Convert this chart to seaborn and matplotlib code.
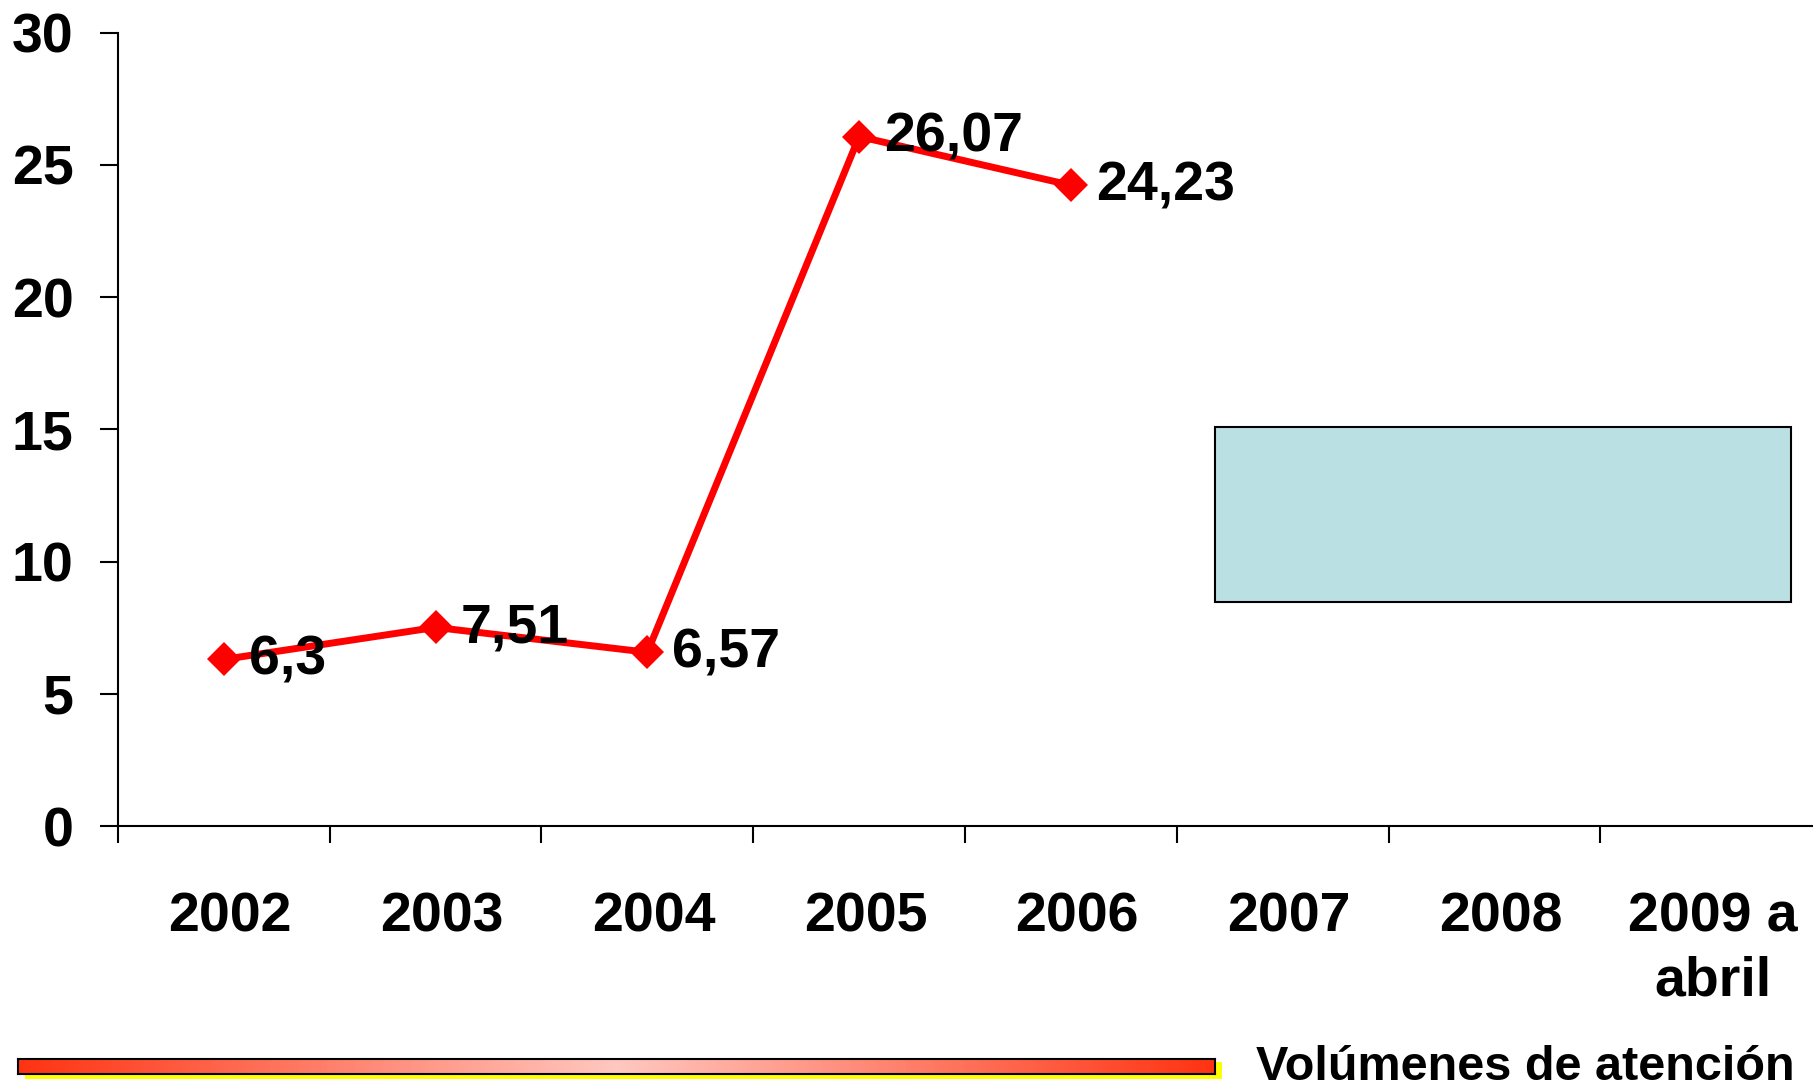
import matplotlib
matplotlib.use('Agg')
import matplotlib.pyplot as plt
import matplotlib.patches as mpatches
from matplotlib import font_manager
from matplotlib.colors import LinearSegmentedColormap
import seaborn as sns
import pandas as pd
import numpy as np

sns.set_style('white')
plt.rcParams['font.family'] = ['Liberation Sans', 'DejaVu Sans']
plt.rcParams['font.weight'] = 'bold'
plt.rcParams['text.color'] = 'black'
plt.rcParams['xtick.color'] = 'black'
plt.rcParams['ytick.color'] = 'black'

# Data
years = ['2002', '2003', '2004', '2005', '2006', '2007', '2008', '2009 a\nabril']
values = [6.3, 7.51, 6.57, 26.07, 24.23, np.nan, np.nan, np.nan]
value_labels = ['6,3', '7,51', '6,57', '26,07', '24,23']
yticks = [0, 5, 10, 15, 20, 25, 30]
footer_text = 'Volúmenes de atención'

df = pd.DataFrame({'pos': np.arange(len(years)), 'value': values})

fig = plt.figure(figsize=(18.14, 10.88), dpi=100)
ax = fig.add_axes([0.065, 0.2408, 0.934, 0.7292])

sns.lineplot(data=df, x='pos', y='value', ax=ax, color='#FF0000', linewidth=5,
             marker='D', markersize=17, markeredgewidth=0, zorder=3)

for i, txt in enumerate(value_labels):
    ax.annotate(txt, (df['pos'][i], values[i]), xytext=(18, -1), textcoords='offset points',
                ha='left', va='center', fontsize=40, fontweight='bold', color='black', zorder=4)

ax.set_xlim(-0.5, len(years) - 0.5)
ax.set_ylim(0, 30)
ax.set_yticks(yticks)
ax.set_yticklabels([str(t) for t in yticks], fontsize=40, fontweight='bold')
ax.tick_params(axis='y', direction='out', length=13, width=1.5, pad=19, left=True,
               colors='black')

# category boundaries as tick marks, labels at category centres
ax.set_xticks(np.arange(-0.5, len(years) - 1, 1.0))
ax.set_xticklabels([])
ax.tick_params(axis='x', which='major', direction='out', length=12, width=1.5, bottom=True,
               colors='black')
ax.set_xticks(np.arange(len(years)) + 0.03, minor=True)
ax.set_xticklabels(years, minor=True, fontsize=40, fontweight='bold', linespacing=1.3)
ax.tick_params(axis='x', which='minor', length=0, pad=47, colors='black')

ax.set_xlabel('')
ax.set_ylabel('')
for side in ['top', 'right']:
    ax.spines[side].set_visible(False)
for side in ['left', 'bottom']:
    ax.spines[side].set_linewidth(1.5)
    ax.spines[side].set_color('black')
ax.grid(False)

# empty light blue box
W, H = 1814.0, 1088.0
box = mpatches.Rectangle((1215 / W, 1 - 602 / H), (1791 - 1215) / W, (602 - 427) / H,
                         transform=fig.transFigure, facecolor='#BBE0E3', edgecolor='black',
                         linewidth=1.5)
fig.patches.append(box)

# footer bar with gradient and yellow shadow
shadow = mpatches.Rectangle((25 / W, 1 - 1079 / H), (1222 - 25) / W, (1079 - 1062) / H,
                            transform=fig.transFigure, facecolor='#FFFF00', edgecolor='none',
                            zorder=0)
fig.patches.append(shadow)
bar_ax = fig.add_axes([18 / W, 1 - 1074 / H, (1215 - 18) / W, (1074 - 1059) / H])
bar_ax.set_zorder(5)
cmap = LinearSegmentedColormap.from_list('redwhite', ['#FF3311', '#FFC8C0', '#FF3311'])
bar_ax.imshow(np.linspace(0, 1, 256).reshape(1, -1), aspect='auto', cmap=cmap,
              extent=[0, 1, 0, 1])
bar_ax.set_xticks([])
bar_ax.set_yticks([])
for s in bar_ax.spines.values():
    s.set_linewidth(1.5)
    s.set_color('black')

names = {f.name for f in font_manager.fontManager.ttflist}
if 'Liberation Sans Narrow' in names:
    footer_font = ['Liberation Sans Narrow', 'Liberation Sans']
    footer_size = 44
else:
    footer_font = ['Liberation Sans', 'DejaVu Sans']
    footer_size = 35
fig.text(1795 / W, 1 - 1068 / H, footer_text, ha='right', va='center',
         fontsize=footer_size, fontweight='bold', color='black', family=footer_font)

plt.savefig('out.png', dpi=100)
